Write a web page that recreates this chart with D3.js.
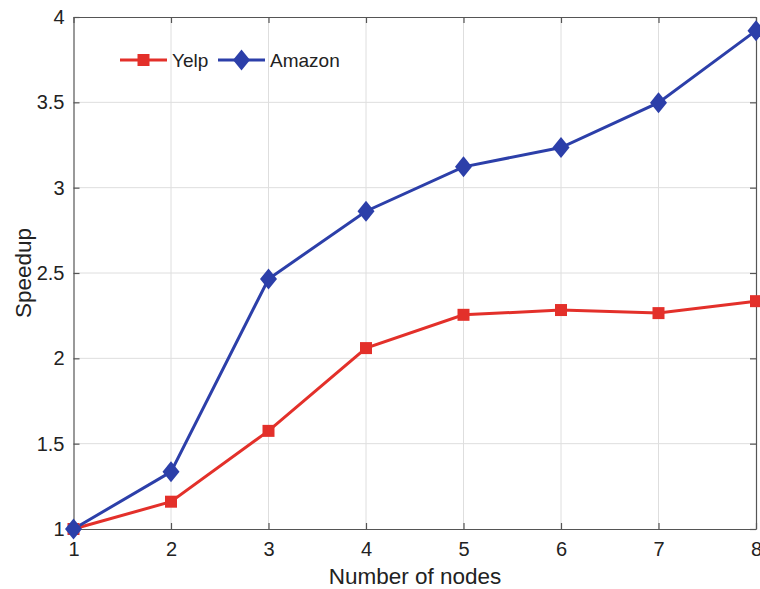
<!DOCTYPE html>
<html>
<head>
<meta charset="utf-8">
<script src="https://cdn.jsdelivr.net/npm/d3@7"></script>
<style>
  body { margin: 0; background: #fff; }
  svg { font-family: "Liberation Sans", Arial, sans-serif; }
</style>
</head>
<body>
<svg id="chart" width="760" height="589"></svg>
<script>
// values
var nodes = [1, 2, 3, 4, 5, 6, 7, 8];
var yelp = [1, 1.16, 1.575, 2.06, 2.255, 2.283, 2.265, 2.335];
var amazon = [1, 1.335, 2.465, 2.862, 3.122, 3.235, 3.498, 3.92];
var yTicks = [1, 1.5, 2, 2.5, 3, 3.5, 4];
var seriesNames = ["Yelp", "Amazon"];

var red = "#e3302a", blue = "#2c3fa9";

var svg = d3.select("#chart");

var xScale = d3.scaleLinear().domain([1, 8]).range([73.5, 756]);
var yScale = d3.scaleLinear().domain([1, 4]).range([529, 17]);

// grid
svg.append("g").selectAll("line").data(nodes.slice(1, -1)).enter().append("line")
    .attr("x1", d => xScale(d)).attr("x2", d => xScale(d))
    .attr("y1", yScale(1)).attr("y2", yScale(4))
    .attr("stroke", "#dedede").attr("stroke-width", 1);
svg.append("g").selectAll("line").data(yTicks.slice(1, -1)).enter().append("line")
    .attr("x1", xScale(1)).attr("x2", xScale(8))
    .attr("y1", d => yScale(d)).attr("y2", d => yScale(d))
    .attr("stroke", "#dedede").attr("stroke-width", 1);

// axes (box with inward ticks)
function styleAxis(g) {
    g.select(".domain").attr("stroke", "#555").attr("stroke-width", 1.2);
    g.selectAll(".tick line").attr("stroke", "#555").attr("stroke-width", 1.2);
    g.selectAll("text").attr("fill", "#222").style("font-size", "20px")
        .style("font-family", "Liberation Sans, Arial, sans-serif");
}

var xAxis = d3.axisBottom(xScale).tickValues(nodes).tickFormat(d3.format("d"))
    .tickSizeInner(-6).tickSizeOuter(0).tickPadding(13);
svg.append("g").attr("transform", "translate(0," + yScale(1) + ")").call(xAxis).call(styleAxis);

var xTop = d3.axisTop(xScale).tickValues(nodes).tickFormat("")
    .tickSizeInner(-6).tickSizeOuter(0);
svg.append("g").attr("transform", "translate(0," + yScale(4) + ")").call(xTop).call(styleAxis);

var yAxis = d3.axisLeft(yScale).tickValues(yTicks).tickFormat(d3.format("~g"))
    .tickSizeInner(-6).tickSizeOuter(0).tickPadding(9);
svg.append("g").attr("transform", "translate(" + xScale(1) + ",0)").call(yAxis).call(styleAxis);

var yRight = d3.axisRight(yScale).tickValues(yTicks).tickFormat("")
    .tickSizeInner(-6).tickSizeOuter(0);
svg.append("g").attr("transform", "translate(" + xScale(8) + ",0)").call(yRight).call(styleAxis);

// axis labels
svg.append("text").attr("x", 415).attr("y", 584).attr("text-anchor", "middle")
    .style("font-size", "22.5px").attr("fill", "#222").text("Number of nodes");
svg.append("text").attr("transform", "translate(31,273) rotate(-90)").attr("text-anchor", "middle")
    .style("font-size", "22.5px").attr("fill", "#222").text("Speedup");

// lines
var line = d3.line().x((d, i) => xScale(nodes[i])).y(d => yScale(d));

svg.append("path").datum(yelp).attr("d", line)
    .attr("fill", "none").attr("stroke", red).attr("stroke-width", 3);
svg.append("path").datum(amazon).attr("d", line)
    .attr("fill", "none").attr("stroke", blue).attr("stroke-width", 3);

var square = d3.symbol().type(d3.symbolSquare).size(144);
var diamond = "M0,-10.5L8.5,0L0,10.5L-8.5,0Z";

svg.append("g").selectAll("path").data(yelp).enter().append("path")
    .attr("d", square)
    .attr("transform", (d, i) => "translate(" + xScale(nodes[i]) + "," + yScale(d) + ")")
    .attr("fill", red);
svg.append("g").selectAll("path").data(amazon).enter().append("path")
    .attr("d", diamond)
    .attr("transform", (d, i) => "translate(" + xScale(nodes[i]) + "," + yScale(d) + ")")
    .attr("fill", blue);

// legend
var legend = svg.append("g");
var legendX = [120, 218];
var colors = [red, blue];
var shapes = [square, diamond];
seriesNames.forEach(function(name, i) {
    var x0 = legendX[i];
    legend.append("line").attr("x1", x0).attr("x2", x0 + 47).attr("y1", 60).attr("y2", 60)
        .attr("stroke", colors[i]).attr("stroke-width", 3);
    legend.append("path").attr("d", shapes[i]).attr("transform", "translate(" + (x0 + 23.5) + ",60)")
        .attr("fill", colors[i]);
    legend.append("text").attr("x", x0 + 52).attr("y", 67).style("font-size", "19px")
        .attr("fill", "#222").text(name);
});
</script>
</body>
</html>
